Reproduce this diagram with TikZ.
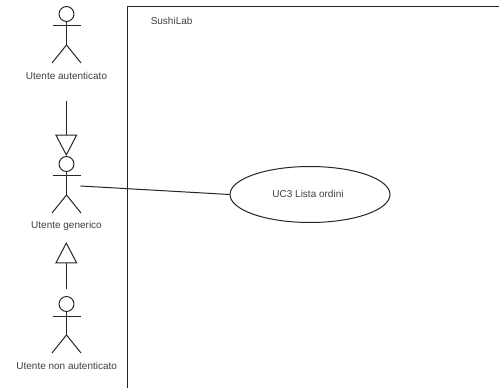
\documentclass[tikz,border=0pt]{standalone}
\usepackage{fontspec}
\setmainfont{Liberation Sans}
\usetikzlibrary{arrows.meta,shapes.geometric}
\tikzset{
  x=0.75pt,y=-0.75pt,
  ink/.style={draw=black!85,line width=0.75pt},
  lbl/.style={inner sep=0pt,text=black!75,font=\fontsize{7.5pt}{9pt}\selectfont},
  uc/.style={ink,shape=ellipse,minimum width=120pt,minimum height=42pt,inner sep=0pt},
  actor/.pic={
    \draw[ink] (0,-7.5) circle[radius=5.6pt];
    \draw[ink] (0,0) -- (0,23.5) (-14,4.5) -- (14,4.5);
    \draw[ink] (-14.5,41.5) -- (0,23.5) -- (14.5,41.5);
  },
  inherit/.style={ink,-{Triangle[open,length=16pt,width=16.5pt,fill=white]}}
}
\begin{document}
\begin{tikzpicture}
\useasboundingbox (0,0) rectangle (499,388);
\path[fill=white] (0,0) rectangle (499,388);
% system boundary
\draw[ink] (127.5,388) -- (127.5,7) -- (499,7);
\node[lbl,anchor=west] (sys) at (150.5,20.5) {SushiLab};
% actors
\pic at (66.5,21.5) {actor};
\pic at (66.5,171.5) {actor};
\pic at (66.5,311.5) {actor};
\node[lbl] (a1) at (66.5,76) {Utente autenticato};
\node[lbl] (a2) at (66.5,226) {Utente generico};
\node[lbl] (a3) at (66.7,366) {Utente non autenticato};
% use case
\node[uc] (uc3) at (310,194.5) {};
\node[lbl] (uc3t) at (308,194) {UC3 Lista ordini};
% connectors
\coordinate (g1) at (66.3,101);
\coordinate (g1t) at (66.3,156);
\coordinate (g2) at (66.3,289);
\coordinate (g2t) at (66.3,242);
\coordinate (as) at (80.5,186);
\draw[inherit] (g1) -- (g1t);
\draw[inherit] (g2) -- (g2t);
\draw[ink] (as) -- (uc3.west);
\end{tikzpicture}
\end{document}
